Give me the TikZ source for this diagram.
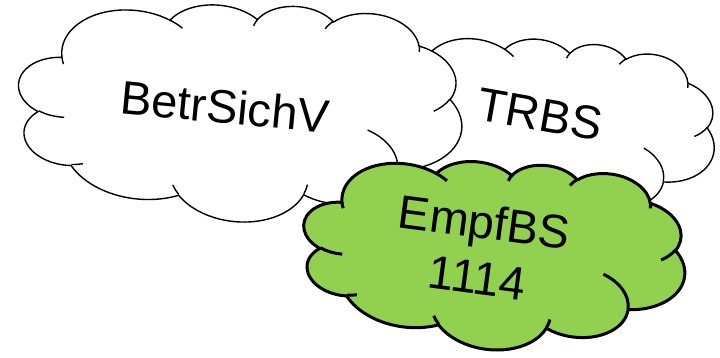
\documentclass[tikz,border=0pt]{standalone}
\usepackage{fontspec}
\setmainfont{Liberation Sans}
\definecolor{cgreen}{HTML}{92D050}
% parametric angles of the OOXML cloud arcs (path units /1000, degrees)
\newcommand\defarc[5]{%
  \pgfmathsetmacro\tmpta{atan2((#2)*sin(#4),(#3)*cos(#4))}%
  \pgfmathsetmacro\tmptb{atan2((#2)*sin((#4)+(#5)),(#3)*cos((#4)+(#5)))}%
  \pgfmathsetmacro\tmpd{mod(\tmptb-\tmpta+720,360)}%
  \expandafter\xdef\csname arcS#1\endcsname{\tmpta}%
  \expandafter\xdef\csname arcD#1\endcsname{\tmpd}%
}
\defarc{ma}{6.753}{9.190}{-190.4875}{123.7805}
\defarc{mb}{5.333}{7.267}{-144.1024}{89.9452}
\defarc{mc}{4.365}{5.945}{-145.8079}{99.7230}
\defarc{md}{4.857}{6.595}{-130.9861}{117.2417}
\defarc{me}{5.333}{7.273}{-78.7089}{109.0269}
\defarc{mf}{6.775}{9.220}{-46.2673}{130.2690}
\defarc{mg}{5.785}{7.867}{0.6250}{114.0333}
\defarc{mh}{6.752}{9.215}{22.4516}{115.1726}
\defarc{mi}{7.720}{10.543}{66.2426}{75.7110}
\defarc{mj}{4.360}{5.918}{-274.9421}{146.7356}
\defarc{mk}{4.345}{5.945}{-246.8285}{152.5189}
\defarc{ia}{4.345}{5.945}{86.742}{26.4295}
\defarc{ib}{4.360}{5.918}{73.6105}{11.4475}
\defarc{ic}{6.752}{9.215}{137.6242}{14.0811}
\defarc{id}{6.752}{9.215}{6.4533}{15.9984}
\defarc{ie}{5.785}{7.867}{-70.2924}{70.9174}
\defarc{if}{5.333}{7.273}{30.3180}{27.7515}
\defarc{ig}{4.857}{6.595}{-13.7443}{14.8589}
\defarc{ih}{4.857}{6.595}{-149.1815}{18.1954}
\defarc{ii}{4.365}{5.945}{-163.4943}{17.6864}
\defarc{ij}{6.753}{9.190}{-66.7070}{12.3194}
\defarc{ik}{6.753}{9.190}{157.6544}{11.8582}
% #1 cx, #2 cy, #3 w, #4 h, #5 rotation (clockwise), #6 style
\newcommand\drawcloud[6]{%
\begin{scope}[shift={(#1,-#2)}, rotate=-#5, xscale=#3/43.2, yscale=-#4/43.2, shift={(-21.6,-21.6)}]
\path[#6] (3.900,14.370)
  arc[start angle=\arcSma, delta angle=\arcDma, x radius=6.753, y radius=9.190]
  arc[start angle=\arcSmb, delta angle=\arcDmb, x radius=5.333, y radius=7.267]
  arc[start angle=\arcSmc, delta angle=\arcDmc, x radius=4.365, y radius=5.945]
  arc[start angle=\arcSmd, delta angle=\arcDmd, x radius=4.857, y radius=6.595]
  arc[start angle=\arcSme, delta angle=\arcDme, x radius=5.333, y radius=7.273]
  arc[start angle=\arcSmf, delta angle=\arcDmf, x radius=6.775, y radius=9.220]
  arc[start angle=\arcSmg, delta angle=\arcDmg, x radius=5.785, y radius=7.867]
  arc[start angle=\arcSmh, delta angle=\arcDmh, x radius=6.752, y radius=9.215]
  arc[start angle=\arcSmi, delta angle=\arcDmi, x radius=7.720, y radius=10.543]
  arc[start angle=\arcSmj, delta angle=\arcDmj, x radius=4.360, y radius=5.918]
  arc[start angle=\arcSmk, delta angle=\arcDmk, x radius=4.345, y radius=5.945]
  -- cycle;
\draw[#6, fill=none]
  (4.693,26.177) arc[start angle=\arcSia, delta angle=\arcDia, x radius=4.345, y radius=5.945]
  (6.928,34.899) arc[start angle=\arcSib, delta angle=\arcDib, x radius=4.360, y radius=5.918]
  (16.478,39.090) arc[start angle=\arcSic, delta angle=\arcDic, x radius=6.752, y radius=9.215]
  (28.827,34.751) arc[start angle=\arcSid, delta angle=\arcDid, x radius=6.752, y radius=9.215]
  (34.129,22.954) arc[start angle=\arcSie, delta angle=\arcDie, x radius=5.785, y radius=7.867]
  (41.798,15.354) arc[start angle=\arcSif, delta angle=\arcDif, x radius=5.333, y radius=7.273]
  (38.324,5.426) arc[start angle=\arcSig, delta angle=\arcDig, x radius=4.857, y radius=6.595]
  (29.078,3.952) arc[start angle=\arcSih, delta angle=\arcDih, x radius=4.857, y radius=6.595]
  (22.141,4.720) arc[start angle=\arcSii, delta angle=\arcDii, x radius=4.365, y radius=5.945]
  (14.000,5.192) arc[start angle=\arcSij, delta angle=\arcDij, x radius=6.753, y radius=9.190]
  (4.127,15.789) arc[start angle=\arcSik, delta angle=\arcDik, x radius=6.753, y radius=9.190];
\end{scope}}
\begin{document}
\begin{tikzpicture}[x=1pt, y=1pt,
  cloudwhite/.style={draw=black, fill=white, line width=1.4pt, line join=round},
  cloudgreen/.style={draw=black, fill=cgreen, line width=3pt, line join=round},
  cloudtext/.style={inner sep=0pt, align=center, font=\fontsize{47}{56}\selectfont}]
\useasboundingbox (0,0) rectangle (720,-358);
\drawcloud{550.3}{126}{331}{178}{10}{cloudwhite}
\drawcloud{239.8}{110.8}{445}{220}{5.5}{cloudwhite}
\drawcloud{493.8}{253.8}{384}{190}{7.5}{cloudgreen}
\node[cloudtext, rotate=-5.5] (betr) at (225,-106.7) {BetrSichV};
\node[cloudtext, rotate=-10] (trbs) at (540,-114.5) {TRBS};
\node[cloudtext, rotate=-7.5] (empf) at (481,-249.5) {EmpfBS\\1114};
\end{tikzpicture}
\end{document}
